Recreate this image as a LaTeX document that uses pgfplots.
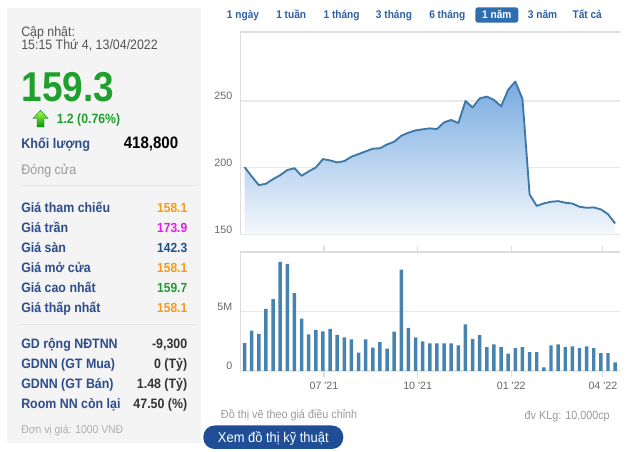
\documentclass[border=0pt]{standalone}
\usepackage{fontspec}
\setmainfont{Liberation Sans}
\usepackage{graphicx}
\usepackage{pgfplots}
\usepackage{pgfplotstable}
\pgfplotsset{compat=1.18}

\definecolor{panelbg}{HTML}{F4F4F4}
\definecolor{sepc}{HTML}{E6E6E6}
\definecolor{graytxt}{HTML}{555555}
\definecolor{lightgraytxt}{HTML}{9A9A9A}
\definecolor{bigreen}{HTML}{1FA02C}
\definecolor{navy}{HTML}{2C4D8A}
\definecolor{orangev}{HTML}{F39A1E}
\definecolor{magentav}{HTML}{E61CE6}
\definecolor{bluev}{HTML}{1D4F86}
\definecolor{greenv}{HTML}{1E9E2E}
\definecolor{darktxt}{HTML}{333333}
\definecolor{btntxt}{HTML}{2F5FA5}
\definecolor{btnblue}{HTML}{2E6DB0}
\definecolor{xbtn}{HTML}{1F4E96}
\definecolor{gridc}{HTML}{E8E8E8}
\definecolor{bordc}{HTML}{DDDDDD}
\definecolor{tickc}{HTML}{666666}
\definecolor{linec}{HTML}{3C78A8}
\definecolor{fillTop}{HTML}{78AAE0}
\definecolor{fillBot}{HTML}{F4F8FD}
\definecolor{barc}{HTML}{4683AE}

\newcommand{\vs}[1]{\scalebox{1}[1.1]{#1}}
\newcommand{\fs}[1]{\fontsize{#1}{#1}\selectfont}

\pgfplotstableread{
d price vol
-78 200.5 2.35
-71 193.5 3.40
-64 187.0 3.13
-57 188.0 5.22
-50 191.5 6.03
-43 194.5 9.16
-36 198.3 9.00
-29 199.7 6.54
-22 194.0 4.41
-15 197.3 3.07
-8 200.2 3.46
-1 206.5 3.32
6 205.5 3.55
13 204.0 3.04
20 205.0 2.82
27 208.3 2.65
34 210.3 1.54
41 212.3 2.65
48 214.3 1.96
55 214.6 2.43
62 217.5 1.87
69 219.5 3.30
76 224.0 8.52
83 226.3 3.63
90 228.0 2.82
97 228.8 2.49
104 229.5 2.32
111 229.0 2.32
118 234.0 2.32
125 235.8 2.32
132 233.5 2.15
139 250.0 3.91
146 245.2 2.71
153 252.0 3.02
160 253.3 2.01
167 250.8 2.23
174 246.0 2.01
181 258.5 1.45
188 264.6 1.93
195 251.5 2.01
202 180.0 1.59
209 171.4 1.59
216 173.3 0.31
223 174.5 2.15
230 175.0 2.23
237 173.8 2.01
244 173.2 2.07
251 170.8 1.93
258 170.0 2.07
265 170.3 1.93
272 168.8 1.51
279 165.2 1.51
286 158.3 0.73
}\datatab

\pgfplotstableread{
d price
-78 150
-78 200.5
-71 193.5
-64 187.0
-57 188.0
-50 191.5
-43 194.5
-36 198.3
-29 199.7
-22 194.0
-15 197.3
-8 200.2
-1 206.5
6 205.5
13 204.0
20 205.0
27 208.3
34 210.3
41 212.3
48 214.3
55 214.6
62 217.5
69 219.5
76 224.0
83 226.3
90 228.0
97 228.8
104 229.5
111 229.0
118 234.0
125 235.8
132 233.5
139 250.0
146 245.2
153 252.0
160 253.3
167 250.8
174 246.0
181 258.5
188 264.6
195 251.5
202 180.0
209 171.4
216 173.3
223 174.5
230 175.0
237 173.8
244 173.2
251 170.8
258 170.0
265 170.3
272 168.8
279 165.2
286 158.3
286 150
}\filltab

\begin{document}
\begin{tikzpicture}
\begin{scope}[x=0.75pt,y=-0.75pt]
\path (0,0) rectangle (640,452);
% left panel
\fill[panelbg] (7,8) rectangle (201,443);
\draw[sepc, line width=0.75pt] (21,186) -- (197,186);
\draw[sepc, line width=0.75pt] (21,325) -- (197,325);
\node[anchor=base west, inner sep=0, font=\fs{9.3}, text=graytxt] at (21,36.5) {\vs{Cập nhật:}};
\node[anchor=base west, inner sep=0, font=\fs{9.3}, text=graytxt] at (21,49.1) {\vs{15:15 Thứ 4, 13/04/2022}};
\node[anchor=base west, inner sep=0, font=\fs{27.7}\bfseries, text=bigreen] at (21.5,101.3) {\scalebox{1}[1.13]{159.3}};
% arrow icon
\shade[top color=green!30!lime!70!white, bottom color=green!60!black, draw=green!45!black, line width=0.3pt]
  (40.5,110.5) -- (48,118.5) -- (44,118.5) -- (44,127) -- (37,127) -- (37,118.5) -- (33,118.5) -- cycle;
\node[anchor=base west, inner sep=0, font=\fs{9.2}\bfseries, text=bigreen] at (56.5,123.1) {\vs{1.2 (0.76\%)}};
\node[anchor=base west, inner sep=0, font=\fs{9.5}\bfseries, text=navy] at (21,148.3) {\vs{Khối lượng}};
\node[anchor=base east, inner sep=0, font=\fs{11.3}\bfseries, text=black] at (178.5,148.3) {\vs{418,800}};
\node[anchor=base west, inner sep=0, font=\fs{9.4}, text=lightgraytxt] at (21,174.9) {\vs{Đóng cửa}};
% price rows
\foreach \lab/\val/\col [count=\k from 0] in {Giá tham chiếu/158.1/orangev, Giá trần/173.9/magentav, Giá sàn/142.3/bluev, Giá mở cửa/158.1/orangev, Giá cao nhất/159.7/greenv, Giá thấp nhất/158.1/orangev}{
  \node[anchor=base west, inner sep=0, font=\fs{9.3}\bfseries, text=navy] at (21,212.3+20*\k) {\vs{\lab}};
  \node[anchor=base east, inner sep=0, font=\fs{9}\bfseries, text=\col] at (187.5,212.3+20*\k) {\vs{\val}};
}
% foreign rows
\foreach \lab/\val [count=\k from 0] in {GD rộng NĐTNN/-9{,}300, GDNN (GT Mua)/0 (Tỷ), GDNN (GT Bán)/1.48 (Tỷ), Room NN còn lại/47.50 (\%)}{
  \node[anchor=base west, inner sep=0, font=\fs{9.3}\bfseries, text=navy] at (21,348.4+20.2*\k) {\vs{\lab}};
  \node[anchor=base east, inner sep=0, font=\fs{9.3}\bfseries, text=darktxt] at (187.5,348.4+20.2*\k) {\vs{\val}};
}
\node[anchor=base west, inner sep=0, font=\fs{7.8}, text=lightgraytxt!80!white] at (21,434) {\vs{Đơn vị giá: 1000 VNĐ}};
% period buttons
\fill[btnblue, rounded corners=2pt] (475.3,7.3) rectangle (518.3,22.7);
\foreach \lab/\xx in {1 ngày/226.7, 1 tuần/276, 1 tháng/323.3, 3 tháng/375.7, 6 tháng/429, 3 năm/527.7, Tất cả/572.3}{
  \node[anchor=base west, inner sep=0, font=\fs{7.6}\bfseries, text=btntxt] at (\xx,19) {\vs{\lab}};
}
\node[anchor=base, inner sep=0, font=\fs{7.6}\bfseries, text=white] at (496.8,19) {\vs{1 năm}};
% bottom texts
\node[anchor=base west, inner sep=0, font=\fs{8.1}, text=lightgraytxt] at (220.7,418.5) {\vs{Đồ thị vẽ theo giá điều chỉnh}};
\node[anchor=base east, inner sep=0, font=\fs{8.1}, text=lightgraytxt] at (610,419.2) {\vs{đv KLg: 10,000cp}};
\fill[xbtn, rounded corners=8.5pt] (203.3,425.5) rectangle (343.3,449);
\node[anchor=base, inner sep=0, font=\fs{9.7}, text=white] at (273.3,442.3) {\vs{Xem đồ thị kỹ thuật}};
\end{scope}

% price chart
\begin{axis}[
  at={(180pt,-175.875pt)}, anchor=south west,
  scale only axis, width=285pt, height=151.875pt,
  xmin=-82.5, xmax=290.8, ymin=150, ymax=301.7,
  axis line style={draw=none},
  xtick=\empty, ytick={150,200,250},
  ymajorgrids, grid style={gridc, line width=1pt},
  major tick length=0pt,
  /pgf/number format/assume math mode=true,
  yticklabel style={font=\fs{8}, text=tickc, xshift=-2.3pt, yshift=3.75pt},
]
\addplot[draw=none, top color=fillTop, bottom color=fillBot] table[x=d, y=price] {\filltab};
\addplot[linec, line width=1.4pt, line join=round, mark=none] table[x=d, y=price] {\datatab};
\draw[bordc, line width=1pt] (rel axis cs:0,0) -- (rel axis cs:0,1) -- (rel axis cs:1,1);
\end{axis}

% volume chart
\begin{axis}[
  at={(180pt,-278.25pt)}, anchor=south west,
  scale only axis, width=285pt, height=89.25pt,
  xmin=-82.5, xmax=290.8, ymin=0, ymax=10,
  axis line style={draw=none},
  xtick={0,92,184,274},
  xticklabels={07 \textquotesingle 21, 10 \textquotesingle 21, 01 \textquotesingle 22, 04 \textquotesingle 22},
  ytick={0,5}, yticklabels={0,5M},
  ymajorgrids, grid style={gridc, line width=1pt},
  tick align=outside,
  major tick length=4.5pt,
  xtick style={draw=bordc, line width=0.8pt},
  ytick style={draw=none},
  /pgf/number format/assume math mode=true,
  yticklabel style={font=\fs{8}, text=tickc, xshift=2.2pt, yshift=3.75pt},
  xticklabel style={font=\fs{8}, text=tickc, yshift=-0.5pt},
]
\addplot[ybar, bar width=2.6pt, bar shift=0pt, fill=barc, draw=none] table[x=d, y=vol] {\datatab};
\draw[bordc, line width=1pt] (rel axis cs:0,0) -- (rel axis cs:0,1) -- (rel axis cs:1,1);
\end{axis}
\end{tikzpicture}
\end{document}
